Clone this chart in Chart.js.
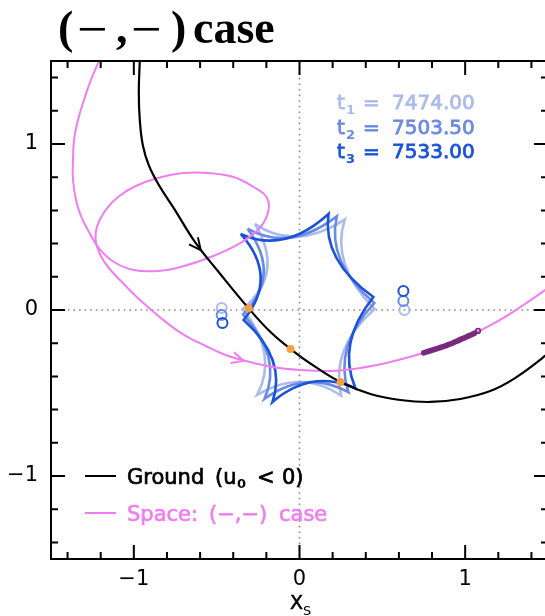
<!DOCTYPE html>
<html><head><meta charset="utf-8">
<script src="https://cdn.jsdelivr.net/npm/chart.js@4.4.1/dist/chart.umd.min.js"></script>
<style>
html,body{margin:0;padding:0;background:#fff;overflow:hidden;}
#wrap{width:560px;height:616px;}
</style></head><body>
<div id="wrap"><canvas id="c" width="560" height="616"></canvas></div>
<script>
// ---- axes ----
const xTickValues = [-1, 0, 1];
const yTickValues = [-1, 0, 1];
const minorTickValues = [-1.4,-1.2,-1.0,-0.8,-0.6,-0.4,-0.2,0,0.2,0.4,0.6,0.8,1.0,1.2,1.4];

// ---- ground-based source trajectory ----
const groundX = [-0.960,-0.964,-0.970,-0.964,-0.946,-0.910,-0.849,-0.759,-0.627,-0.488,-0.307,-0.175,-0.054,0.096,0.247,0.428,0.608,0.789,0.970,1.151,1.301,1.482,1.560];
const groundY = [1.560,1.500,1.307,1.145,0.994,0.873,0.753,0.614,0.404,0.229,0.010,-0.133,-0.235,-0.343,-0.434,-0.506,-0.542,-0.554,-0.536,-0.488,-0.410,-0.277,-0.205];

// ---- space-based source trajectory ----
const spaceX = [-1.193,-1.211,-1.259,-1.301,-1.337,-1.361,-1.367,-1.367,-1.349,-1.319,-1.271,-1.211,-1.120,-1.000,-0.855,-0.717,-0.536,-0.355,-0.235,-0.187,-0.199,-0.277,-0.398,-0.554,-0.699,-0.855,-0.988,-1.096,-1.175,-1.223,-1.229,-1.199,-1.151,-1.078,-0.976,-0.837,-0.705,-0.566,-0.446,-0.325,-0.163,0.006,0.187,0.367,0.548,0.747,0.910,1.072,1.211,1.343,1.482,1.572];
const spaceY = [1.554,1.500,1.386,1.265,1.145,1.024,0.904,0.783,0.663,0.566,0.470,0.373,0.289,0.241,0.235,0.259,0.319,0.404,0.500,0.602,0.681,0.741,0.801,0.825,0.825,0.795,0.747,0.681,0.596,0.500,0.410,0.325,0.253,0.175,0.072,-0.048,-0.145,-0.217,-0.271,-0.307,-0.343,-0.361,-0.367,-0.349,-0.313,-0.259,-0.205,-0.133,-0.060,0.024,0.120,0.187];

// ---- observed space epochs along the trajectory ----
const spaceObsX = [0.750,0.764,0.777,0.791,0.803,0.816,0.828,0.841,0.852,0.865,0.877,0.889,0.900,0.913,0.925,0.937,0.948,0.961,0.972,0.985,0.996,1.009,1.020,1.033,1.046,1.058];
const spaceObsY = [-0.258,-0.253,-0.249,-0.245,-0.241,-0.237,-0.233,-0.229,-0.225,-0.221,-0.217,-0.213,-0.208,-0.204,-0.199,-0.193,-0.188,-0.183,-0.177,-0.172,-0.167,-0.161,-0.156,-0.151,-0.145,-0.139];
const spaceLastX = [1.078];
const spaceLastY = [-0.126];

// ---- caustic-crossing positions on the ground trajectory ----
const crossX = [-0.307, -0.054, 0.247];
const crossY = [0.010, -0.235, -0.434];

// ---- epochs ----
const epochNames  = ['1', '2', '3'];
const epochValues = ['7474.00', '7503.50', '7533.00'];
const epochColors = ['#aabbee', '#6a8ae4', '#1b52da'];

// ---- source images (circles), one per epoch ----
const imgLeftX  = [-0.470, -0.470, -0.465];
const imgLeftY  = [0.012, -0.030, -0.078];
const imgRightX = [0.633, 0.627, 0.627];
const imgRightY = [0.000, 0.054, 0.114];

// ---- caustics: cusps and edge control points for each epoch ----
const causticCuspX = [
  [-0.270, 0.273, 0.453, 0.251, -0.256, -0.342],
  [-0.314, 0.225, 0.451, 0.295, -0.211, -0.341],
  [-0.355, 0.175, 0.446, 0.337, -0.163, -0.337]
];
const causticCuspY = [
  [0.519, 0.545, 0.006, -0.515, -0.511, 0.006],
  [0.490, 0.564, 0.042, -0.494, -0.535, -0.027],
  [0.458, 0.578, 0.078, -0.470, -0.554, -0.060]
];
const causticCtrlX = [
  [-0.030, 0.186, 0.185, 0.007, -0.125, -0.086],
  [-0.060, 0.162, 0.205, 0.038, -0.100, -0.105],
  [-0.090, 0.136, 0.223, 0.069, -0.075, -0.123]
];
const causticCtrlY = [
  [0.354, 0.276, -0.231, -0.355, -0.271, 0.224],
  [0.347, 0.288, -0.218, -0.357, -0.284, 0.212],
  [0.337, 0.298, -0.202, -0.355, -0.295, 0.199]
];

// ---- direction arrows (tip and heading, data units) ----
const arrowX  = [-0.596, -0.337];
const arrowY  = [0.361, -0.307];
const arrowDX = [0.139, 0.120];
const arrowDY = [-0.175, -0.036];

const GROUND = '#000000';
const SPACE = '#f07ef0';
const OBS = '#7a2a7c';
const CROSS = '#f5a040';

const pts = (xs, ys) => xs.map((x, i) => ({x, y: ys[i]}));

const backgroundPlugin = {
  id: 'backdrop',
  beforeDatasetsDraw(chart) {
    const {ctx, chartArea: a, scales: {x, y}} = chart;
    ctx.save();
    ctx.beginPath(); ctx.rect(a.left, a.top, a.right - a.left, a.bottom - a.top); ctx.clip();
    // zero lines
    ctx.strokeStyle = '#8a8a8a'; ctx.lineWidth = 1.6; ctx.setLineDash([1.6, 4]);
    ctx.beginPath();
    ctx.moveTo(x.getPixelForValue(0), a.top); ctx.lineTo(x.getPixelForValue(0), a.bottom);
    ctx.moveTo(a.left, y.getPixelForValue(0)); ctx.lineTo(a.right, y.getPixelForValue(0));
    ctx.stroke();
    ctx.setLineDash([]);
    // caustics
    ctx.lineWidth = 2.6; ctx.lineJoin = 'miter'; ctx.miterLimit = 6;
    for (let e = 0; e < 3; e++) {
      const cx = causticCuspX[e], cy = causticCuspY[e], kx = causticCtrlX[e], ky = causticCtrlY[e];
      ctx.strokeStyle = epochColors[e];
      ctx.beginPath();
      ctx.moveTo(x.getPixelForValue(cx[0]), y.getPixelForValue(cy[0]));
      for (let i = 0; i < cx.length; i++) {
        const j = (i + 1) % cx.length;
        ctx.quadraticCurveTo(x.getPixelForValue(kx[i]), y.getPixelForValue(ky[i]),
                             x.getPixelForValue(cx[j]), y.getPixelForValue(cy[j]));
      }
      ctx.stroke();
    }
    ctx.restore();
  }
};

// text drawn with a thin outline so the strokes read a little heavier
function heavyText(ctx, s, px, py, w) {
  ctx.fillText(s, px, py);
  if (w > 0) {
    ctx.lineWidth = w; ctx.strokeStyle = ctx.fillStyle;
    ctx.strokeText(s, px, py);
  }
}

const SANS = '"DejaVu Sans", sans-serif';

const overlayPlugin = {
  id: 'overlay',
  afterDatasetsDraw(chart) {
    const {ctx, chartArea: a, scales: {x, y}} = chart;
    ctx.save();
    // arrows
    const arrowColors = [GROUND, SPACE];
    for (let i = 0; i < arrowX.length; i++) {
      const tx = x.getPixelForValue(arrowX[i]), ty = y.getPixelForValue(arrowY[i]);
      const hx = x.getPixelForValue(arrowX[i] + arrowDX[i]) - tx;
      const hy = y.getPixelForValue(arrowY[i] + arrowDY[i]) - ty;
      const ang = Math.atan2(hy, hx), L = 13, w = 0.45;
      ctx.strokeStyle = arrowColors[i]; ctx.lineWidth = 2;
      ctx.beginPath();
      ctx.moveTo(tx - L * Math.cos(ang - w), ty - L * Math.sin(ang - w));
      ctx.lineTo(tx, ty);
      ctx.lineTo(tx - L * Math.cos(ang + w), ty - L * Math.sin(ang + w));
      ctx.stroke();
    }
    // frame
    ctx.strokeStyle = '#000'; ctx.lineWidth = 2;
    ctx.strokeRect(a.left, a.top, a.right - a.left, a.bottom - a.top);
    // inward ticks on all sides
    ctx.beginPath();
    minorTickValues.forEach(v => {
      const major = Math.abs(v - Math.round(v)) < 1e-6;
      const len = major ? 14 : 7;
      const px = x.getPixelForValue(v), py = y.getPixelForValue(v);
      ctx.moveTo(px, a.bottom); ctx.lineTo(px, a.bottom - len);
      ctx.moveTo(px, a.top); ctx.lineTo(px, a.top + len);
      ctx.moveTo(a.left, py); ctx.lineTo(a.left + len, py);
      ctx.moveTo(a.right, py); ctx.lineTo(a.right - len, py);
    });
    ctx.stroke();

    ctx.textBaseline = 'alphabetic';
    // epoch labels: t_i = value
    epochValues.forEach((val, i) => {
      const by = 109 + i * 24.5;
      ctx.fillStyle = epochColors[i];
      ctx.font = '20px ' + SANS;
      heavyText(ctx, 't', 337, by, 0.8);
      heavyText(ctx, '=', 363, by, 0.8);
      heavyText(ctx, val, 392, by, 0.8);
      ctx.font = 'bold 13px ' + SANS;
      ctx.fillText(epochNames[i], 346, by + 5);
    });

    // legend: sample line + words placed with wide spacing
    const legend = [
      {color: GROUND, y: 476, words: [['Ground', 127], ['(u', 215], ['<', 257], ['0)', 282]], sub: ['0', 237]},
      {color: SPACE, y: 513, words: [['Space:', 127], ['(\u2212,\u2212)', 209], ['case', 279]], sub: null}
    ];
    legend.forEach(it => {
      ctx.strokeStyle = it.color; ctx.lineWidth = 2;
      ctx.beginPath(); ctx.moveTo(85, it.y); ctx.lineTo(116, it.y); ctx.stroke();
      ctx.fillStyle = it.color;
      ctx.font = '21px ' + SANS;
      it.words.forEach(([s, px]) => heavyText(ctx, s, px, it.y + 8, 0.7));
      if (it.sub) {
        ctx.font = 'bold 13px ' + SANS;
        ctx.fillText(it.sub[0], it.sub[1], it.y + 12);
      }
    });

    // x-axis title
    ctx.fillStyle = '#000';
    ctx.font = '19px ' + SANS;
    heavyText(ctx, 'X', 290, 609, 0.5);
    ctx.font = '13px ' + SANS;
    ctx.fillText('S', 303, 615);

    // title
    ctx.font = 'bold 46px "Liberation Serif"';
    [['(', 58], [',', 116], [')', 171], ['case', 193]].forEach(([s, px]) => ctx.fillText(s, px, 43));
    ctx.font = '54px "Liberation Serif"';
    [['\u2212', 77], ['\u2212', 131]].forEach(([s, px]) => ctx.fillText(s, px, 47));
    ctx.restore();
  }
};

new Chart(document.getElementById('c'), {
  type: 'scatter',
  data: {
    datasets: [
      {data: pts(spaceObsX, spaceObsY), backgroundColor: OBS, borderColor: OBS, pointRadius: 2.8, borderWidth: 0, order: 1},
      {data: pts(spaceLastX, spaceLastY), backgroundColor: 'rgba(0,0,0,0)', borderColor: OBS, pointRadius: 2.2, borderWidth: 1.8, order: 1},
      {data: pts(crossX, crossY), backgroundColor: CROSS, borderColor: CROSS, pointRadius: 4, borderWidth: 0, order: 2},
      {data: pts(imgLeftX, imgLeftY), backgroundColor: 'rgba(0,0,0,0)', borderColor: epochColors, pointRadius: 5, borderWidth: 2, order: 3},
      {data: pts(imgRightX, imgRightY), backgroundColor: 'rgba(0,0,0,0)', borderColor: epochColors, pointRadius: 5, borderWidth: 2, order: 3},
      {data: pts(groundX, groundY), showLine: true, borderColor: GROUND, borderWidth: 2.2, pointRadius: 0, tension: 0.4, order: 4},
      {data: pts(spaceX, spaceY), showLine: true, borderColor: SPACE, borderWidth: 2, pointRadius: 0, tension: 0.4, order: 5}
    ]
  },
  options: {
    responsive: false,
    animation: false,
    events: [],
    layout: {padding: {left: 0, top: 61, right: 12, bottom: 0}},
    plugins: {legend: {display: false}, tooltip: {enabled: false}, title: {display: false}},
    scales: {
      x: {
        type: 'linear', min: -1.5, max: 1.5,
        afterFit: s => { s.height = 57; },
        afterBuildTicks: s => { s.ticks = xTickValues.map(v => ({value: v})); },
        grid: {display: false, drawTicks: false}, border: {display: false},
        ticks: {padding: 8, color: '#000', font: {family: '"DejaVu Sans"', size: 21},
                callback: v => v < 0 ? '\u2212' + (-v) : String(v)}
      },
      y: {
        type: 'linear', min: -1.5, max: 1.5,
        afterFit: s => { s.width = 51; },
        afterBuildTicks: s => { s.ticks = yTickValues.map(v => ({value: v})); },
        grid: {display: false, drawTicks: false}, border: {display: false},
        ticks: {padding: 13, color: '#000', font: {family: '"DejaVu Sans"', size: 21},
                callback: v => v < 0 ? '\u2212' + (-v) : String(v)}
      }
    }
  },
  plugins: [backgroundPlugin, overlayPlugin]
});
</script>
</body></html>
